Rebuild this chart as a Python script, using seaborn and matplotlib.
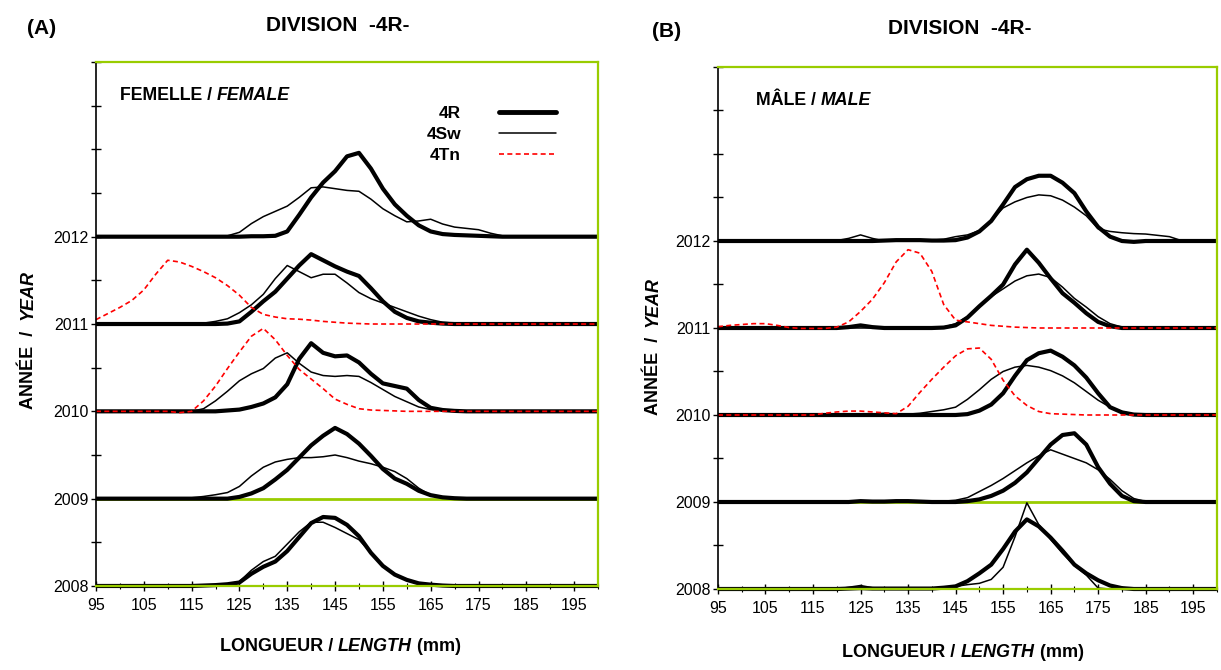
import matplotlib
matplotlib.use("Agg")
import numpy as np
import pandas as pd
import seaborn as sns
import matplotlib.pyplot as plt
from matplotlib.lines import Line2D
from matplotlib.ticker import FixedLocator, FuncFormatter, MultipleLocator

sns.set_style("white")
plt.rcParams['font.family'] = ['Liberation Sans', 'DejaVu Sans']
for key in ('text.color', 'axes.labelcolor', 'xtick.color', 'ytick.color'):
    plt.rcParams[key] = 'black'

# ---------------- data (relative frequency, in "year" units above each baseline) ---------------
lengths = [95, 97.5, 100, 102.5, 105, 107.5, 110, 112.5, 115, 117.5,
           120, 122.5, 125, 127.5, 130, 132.5, 135, 137.5, 140, 142.5,
           145, 147.5, 150, 152.5, 155, 157.5, 160, 162.5, 165, 167.5,
           170, 172.5, 175, 177.5, 180, 182.5, 185, 187.5, 190, 192.5,
           195, 197.5, 200]
years = [2008, 2009, 2010, 2011, 2012]
zones = ['4R', '4Sw', '4Tn']
x_ticks = [95, 105, 115, 125, 135, 145, 155, 165, 175, 185, 195]
y_tick_labels = ['2008', '2009', '2010', '2011', '2012']

# Panel A : female
F_2012_4R = [0,0,0,0,0,0,0,0,0,0, 0,0,0,0.005,0.005,0.01,0.06,0.25,0.45,0.62, 0.75,0.92,0.96,0.78,0.55,0.37,0.24,0.13,0.06,0.03, 0.02,0.015,0.01,0.005,0,0,0,0,0,0, 0,0,0]
F_2012_4Sw = [0,0,0,0,0,0,0,0,0,0, 0,0.01,0.05,0.15,0.23,0.29,0.35,0.45,0.56,0.57, 0.55,0.53,0.52,0.43,0.32,0.24,0.17,0.18,0.20,0.145, 0.11,0.095,0.08,0.04,0.01,0,0,0,0,0, 0,0,0]
F_2011_4R = [0,0,0,0,0,0,0,0,0,0, 0,0.005,0.03,0.14,0.26,0.37,0.52,0.67,0.80,0.73, 0.66,0.60,0.55,0.41,0.26,0.14,0.07,0.03,0.015,0.005, 0,0,0,0,0,0,0,0,0,0, 0,0,0]
F_2011_4Sw = [0,0,0,0,0,0,0,0,0,0.01, 0.03,0.06,0.13,0.22,0.34,0.52,0.67,0.60,0.53,0.57, 0.57,0.47,0.36,0.29,0.24,0.19,0.14,0.09,0.05,0.02, 0.01,0,0,0,0,0,0,0,0,0, 0,0,0]
F_2011_4Tn = [0.05,0.12,0.19,0.27,0.39,0.57,0.73,0.71,0.66,0.60, 0.53,0.44,0.33,0.19,0.11,0.08,0.06,0.055,0.045,0.03, 0.02,0.01,0.005,0,0,0,0,0,0,0, 0,0,0,0,0,0,0,0,0,0, 0,0,0]
F_2010_4R = [0,0,0,0,0,0,0,0,0,0, 0,0.01,0.02,0.05,0.09,0.16,0.31,0.60,0.78,0.67, 0.63,0.64,0.56,0.43,0.32,0.29,0.26,0.13,0.04,0.015, 0.005,0,0,0,0,0,0,0,0,0, 0,0,0]
F_2010_4Sw = [0,0,0,0,0,0,0,0,0,0.03, 0.12,0.23,0.35,0.43,0.49,0.61,0.67,0.55,0.45,0.41, 0.40,0.41,0.40,0.33,0.25,0.17,0.11,0.05,0.02,0.01, 0,0,0,0,0,0,0,0,0,0, 0,0,0]
F_2010_4Tn = [0,0,0,0,0,0,0,-0.015,0,0.12, 0.29,0.49,0.68,0.86,0.95,0.82,0.64,0.48,0.37,0.26, 0.14,0.08,0.03,0.015,0.01,0.005,0,0,0,0, 0,0,0,0,0,0,0,0,0,0, 0,0,0]
F_2009_4R = [0,0,0,0,0,0,0,0,0,0, 0,0,0.02,0.06,0.12,0.22,0.33,0.47,0.61,0.72, 0.81,0.74,0.63,0.49,0.34,0.23,0.17,0.09,0.04,0.015, 0.005,0,0,0,0,0,0,0,0,0, 0,0,0]
F_2009_4Sw = [0,0,0,0,0,0,0,0.005,0.01,0.025, 0.045,0.07,0.14,0.26,0.36,0.42,0.45,0.47,0.47,0.48, 0.50,0.47,0.43,0.40,0.36,0.31,0.23,0.12,0.04,0.01, 0,0,0,0,0,0,0,0,0,0, 0,0,0]
F_2008_4R = [0,0,0,0,0,0,0,0,0,0.005, 0.01,0.02,0.04,0.14,0.22,0.28,0.40,0.56,0.72,0.79, 0.78,0.70,0.57,0.38,0.23,0.13,0.07,0.03,0.015,0.005, 0,0,0,0,0,0,0,0,0,0, 0,0,0]
F_2008_4Sw = [0,0,0,0,0,0,0,0,0,0.005, 0.01,0.02,0.05,0.18,0.28,0.34,0.48,0.62,0.73,0.73, 0.67,0.60,0.53,0.38,0.23,0.13,0.07,0.03,0.015,0.005, 0,0,0,0,0,0,0,0,0,0, 0,0,0]

# Panel B : male
M_2012_4R = [0,0,0,0,0,0,0,0,0,0, 0,0,0,0,0.005,0.01,0.01,0.01,0.005,0.005, 0.01,0.04,0.11,0.23,0.42,0.62,0.71,0.75,0.75,0.67, 0.55,0.34,0.16,0.05,0,-0.01,0,0,0,0, 0,0,0]
M_2012_4Sw = [0,0,0,0,0,0,0,0,0,0, 0.005,0.03,0.07,0.03,0,0.005,0.005,0.005,0.01,0.02, 0.05,0.07,0.12,0.23,0.38,0.45,0.50,0.53,0.52,0.47, 0.39,0.29,0.14,0.11,0.095,0.085,0.08,0.065,0.05,0.005, 0,0,0]
M_2011_4R = [0,0,0,0,0,0,0,0,0,0, 0,0.01,0.03,0.01,0,0,0,0,0,0.005, 0.03,0.12,0.25,0.37,0.50,0.73,0.90,0.75,0.57,0.40, 0.29,0.17,0.07,0.02,0,0,0,0,0,0, 0,0,0]
M_2011_4Sw = [0,0,0,0,0,0,0,0,0,0, 0,0,0,0,0,0,0,0,0,0.01, 0.05,0.13,0.25,0.36,0.45,0.54,0.60,0.62,0.58,0.47, 0.34,0.24,0.13,0.05,0.01,0,0,0,0,0, 0,0,0]
M_2011_4Tn = [0.015,0.03,0.04,0.05,0.05,0.03,0.005,-0.005,-0.005,-0.005, 0.01,0.07,0.19,0.33,0.52,0.76,0.90,0.86,0.65,0.27, 0.09,0.07,0.05,0.03,0.02,0.01,0.005,0,0,0, 0,0,0,0,0,0,0,0,0,0, 0,0,0]
M_2010_4R = [0,0,0,0,0,0,0,0,0,0, 0,0,0,0,0,0,0,0,0,0, 0,0.01,0.05,0.12,0.25,0.45,0.63,0.71,0.74,0.67, 0.57,0.43,0.25,0.09,0.03,0.005,0,0,0,0, 0,0,0]
M_2010_4Sw = [0,0,0,0,0,0,0,0,0,0, 0,0,0.005,0.01,0.02,0.01,0.01,0.02,0.04,0.06, 0.09,0.18,0.29,0.41,0.50,0.55,0.57,0.55,0.51,0.45, 0.37,0.27,0.17,0.09,0.04,0.01,0,0,0,0, 0,0,0]
M_2010_4Tn = [0,0,0,0,0,0,0,0,0,0.02, 0.035,0.045,0.045,0.035,0.025,0.015,0.10,0.26,0.41,0.55, 0.68,0.76,0.77,0.64,0.40,0.22,0.11,0.04,0.015,0.01, 0.005,0,0,0,0,0,0,0,0,0, 0,0,0]
M_2009_4R = [0,0,0,0,0,0,0,0,0,0, 0,0,0.01,0.005,0.005,0.01,0.01,0.005,0,0, 0,0.01,0.03,0.07,0.13,0.22,0.34,0.50,0.66,0.77, 0.79,0.66,0.40,0.21,0.07,0.01,0,0,0,0, 0,0,0]
M_2009_4Sw = [0,0,0,0,0,0,0,0,0,0, 0,0,0.005,0.005,0.005,0.005,0.005,0.005,0.01,0.01, 0.02,0.05,0.12,0.19,0.27,0.36,0.45,0.53,0.60,0.55, 0.50,0.45,0.37,0.26,0.13,0.04,0.005,0,0,0, 0,0,0]
M_2008_4R = [0,0,0,0,0,0,0,0,0,0, 0,0.005,0.01,0.005,0.005,0.005,0.005,0.005,0.005,0.015, 0.03,0.09,0.18,0.28,0.46,0.66,0.80,0.72,0.59,0.44, 0.28,0.18,0.10,0.04,0.01,0,0,0,0,0, 0,0,0]
M_2008_4Sw = [0,0,0,0,0,0,0,0,0,0, 0,0.02,0.04,0.015,0.01,0.01,0.01,0.01,0.01,0.02, 0.03,0.05,0.065,0.11,0.25,0.60,0.99,0.74,0.57,0.41, 0.27,0.16,0.01,0,0,0,0,0,0,0, 0,0,0]

female = {
    (2012, '4R'): F_2012_4R, (2012, '4Sw'): F_2012_4Sw,
    (2011, '4R'): F_2011_4R, (2011, '4Sw'): F_2011_4Sw, (2011, '4Tn'): F_2011_4Tn,
    (2010, '4R'): F_2010_4R, (2010, '4Sw'): F_2010_4Sw, (2010, '4Tn'): F_2010_4Tn,
    (2009, '4R'): F_2009_4R, (2009, '4Sw'): F_2009_4Sw,
    (2008, '4R'): F_2008_4R, (2008, '4Sw'): F_2008_4Sw,
}
male = {
    (2012, '4R'): M_2012_4R, (2012, '4Sw'): M_2012_4Sw,
    (2011, '4R'): M_2011_4R, (2011, '4Sw'): M_2011_4Sw, (2011, '4Tn'): M_2011_4Tn,
    (2010, '4R'): M_2010_4R, (2010, '4Sw'): M_2010_4Sw, (2010, '4Tn'): M_2010_4Tn,
    (2009, '4R'): M_2009_4R, (2009, '4Sw'): M_2009_4Sw,
    (2008, '4R'): M_2008_4R, (2008, '4Sw'): M_2008_4Sw,
}

rows = []
for sex, table in (('F', female), ('M', male)):
    for (yr, zone), vals in table.items():
        assert len(vals) == len(lengths)
        for L, v in zip(lengths, vals):
            rows.append(dict(sex=sex, year=yr, zone=zone, length=L, freq=v, y=yr + v))
df = pd.DataFrame(rows)

# ---------------- styles ----------------
GREEN = '#99CC00'
zone_style = {
    '4R': dict(color='black', linewidth=3.0),
    '4Sw': dict(color='black', linewidth=1.1),
    '4Tn': dict(color='#FF0000', linewidth=1.2, dashes=(3, 2)),
}

fig = plt.figure(figsize=(12.21, 6.70), dpi=100)
axA = fig.add_axes([0.0786, 0.1254, 0.4112, 0.7820])
axB = fig.add_axes([0.5880, 0.1209, 0.4087, 0.7791])


def style_axes(ax):
    ax.set_xlim(95, 200)
    ax.set_ylim(2008, 2014)
    ax.axhline(2009, color=GREEN, lw=2.0, zorder=1)
    ax.xaxis.set_major_locator(FixedLocator(x_ticks))
    ax.xaxis.set_minor_locator(MultipleLocator(5))
    yt = [2008 + 0.5 * k for k in range(13)]
    ax.yaxis.set_major_locator(FixedLocator(yt))
    ax.yaxis.set_major_formatter(FuncFormatter(
        lambda v, p: str(int(round(v))) if abs(v - round(v)) < 1e-6 and str(int(round(v))) in y_tick_labels else ''))
    ax.tick_params(axis='x', which='major', direction='inout', length=7, width=1,
                   labelsize=11.5, pad=5, bottom=True, colors='black')
    ax.tick_params(axis='x', which='minor', direction='inout', length=4, width=0.8, bottom=True,
                   colors='black')
    ax.tick_params(axis='y', which='major', direction='inout', length=7, width=1,
                   labelsize=11.5, pad=2, left=True, colors='black')
    for side in ('top', 'right', 'bottom'):
        ax.spines[side].set_color(GREEN)
        ax.spines[side].set_linewidth(1.6)
    ax.spines['left'].set_color('black')
    ax.spines['left'].set_linewidth(1.2)
    ax.set_xlabel('')
    ax.set_ylabel('')
    ax.grid(False)


for ax, sex in ((axA, 'F'), (axB, 'M')):
    for zone in zones:
        sub = df[(df.sex == sex) & (df.zone == zone)]
        sns.lineplot(data=sub, x='length', y='y', units='year', estimator=None, sort=False,
                     ax=ax, legend=False, clip_on=False, solid_capstyle='butt',
                     **zone_style[zone])
    style_axes(ax)

# ---------------- legend (panel A) ----------------
handles = [Line2D([], [], color='black', lw=3.5),
           Line2D([], [], color='black', lw=1.1),
           Line2D([], [], color='#FF0000', lw=1.2, dashes=(3, 2))]
axA.legend(handles, zones, loc='upper right', bbox_to_anchor=(0.947, 0.947),
           frameon=False, markerfirst=False, handlelength=3.25, handletextpad=2.2,
           labelspacing=0.35, prop=dict(weight='bold', size=12.5), labelcolor='black')

# ---------------- texts ----------------
def chain(host_ax, first_text, parts, size, rotation=0):
    prev = first_text
    for txt, st in parts:
        if rotation == 0:
            prev = host_ax.annotate(txt, xy=(1, 0), xycoords=prev, xytext=(0, 0),
                                    textcoords='offset points', fontsize=size, fontweight='bold',
                                    fontstyle=st, ha='left', va='bottom', annotation_clip=False,
                                    color='black')
        else:
            prev = host_ax.annotate(txt, xy=(0, 1), xycoords=prev, xytext=(0, 0),
                                    textcoords='offset points', fontsize=size, fontweight='bold',
                                    fontstyle=st, ha='left', va='bottom', rotation=90,
                                    annotation_clip=False, color='black')


tA = axA.text(100.0, 2013.52, 'FEMELLE / ', fontsize=12.8, fontweight='bold', ha='left', va='bottom')
chain(axA, tA, [('FEMALE', 'italic')], 12.8)
tB = axB.text(103.0, 2013.52, 'MÂLE / ', fontsize=12.8, fontweight='bold', ha='left', va='bottom')
chain(axB, tB, [('MALE', 'italic')], 12.8)

fig.text(0.0344, 0.958, '(A)', ha='center', va='center', fontsize=15, fontweight='bold')
fig.text(0.2768, 0.962, 'DIVISION  -4R-', ha='center', va='center', fontsize=15, fontweight='bold')
fig.text(0.5463, 0.953, '(B)', ha='center', va='center', fontsize=15, fontweight='bold')
fig.text(0.7862, 0.958, 'DIVISION  -4R-', ha='center', va='center', fontsize=15, fontweight='bold')

# x labels
for host, x0, y0 in ((axA, 0.180, 0.022), (axB, 0.690, 0.014)):
    t = fig.text(x0, y0, 'LONGUEUR / ', fontsize=13, fontweight='bold', ha='left', va='bottom')
    chain(host, t, [('LENGTH', 'italic'), (' (mm)', 'normal')], 13)
# y labels
for host, x0, y0 in ((axA, 0.016, 0.39), (axB, 0.528, 0.38)):
    t = fig.text(x0, y0, 'ANNÉE  /  ', fontsize=13, fontweight='bold', ha='left', va='bottom',
                 rotation=90)
    chain(host, t, [('YEAR', 'italic')], 13, rotation=90)

fig.savefig('out.png', dpi=100)
